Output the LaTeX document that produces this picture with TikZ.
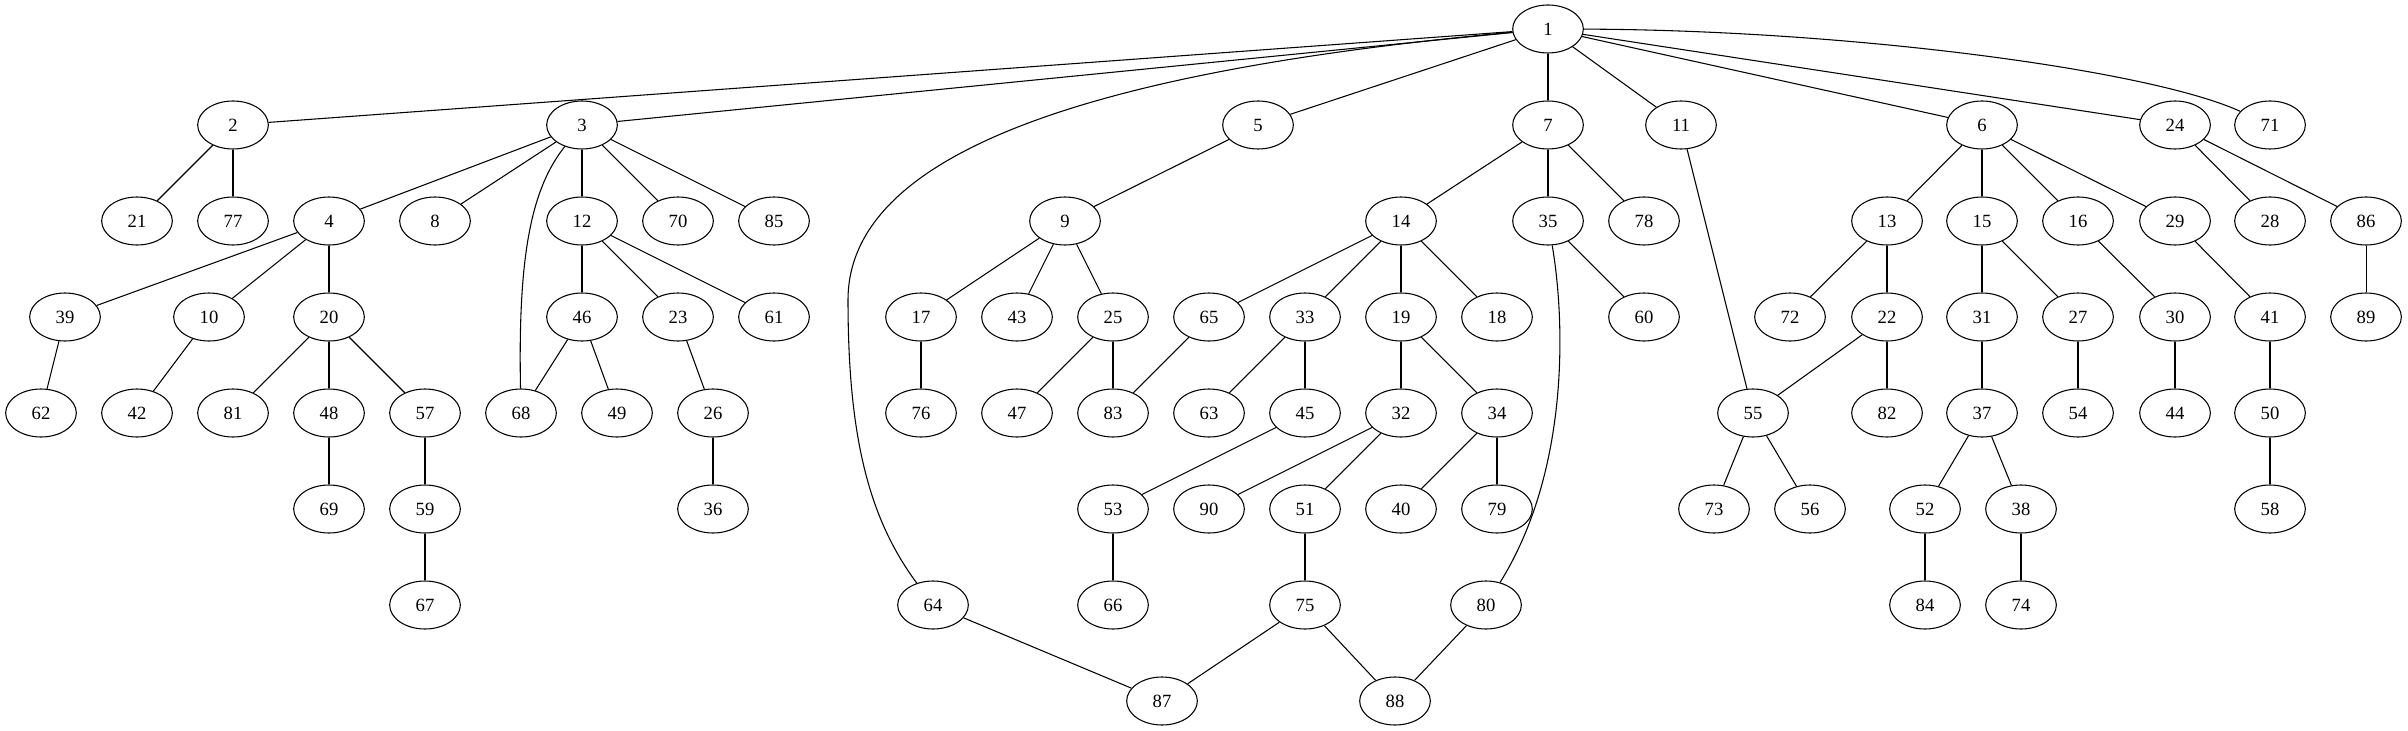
\documentclass[tikz,border=0pt]{standalone}
\usepackage{fontspec}
\setmainfont{Liberation Serif}
\usetikzlibrary{shapes.geometric}
\begin{document}
\begin{tikzpicture}[x=0.75pt,y=-0.75pt,
  vertex/.style={draw,ellipse,minimum width=53pt,minimum height=36pt,inner sep=0pt,font=\fontsize{14}{16}\selectfont},
  every path/.style={line width=0.8pt}]
\useasboundingbox (0,0) rectangle (2408,731);
\node[vertex] (n1) at (1548,29) {1};
\node[vertex] (n2) at (233,125) {2};
\node[vertex] (n3) at (582,125) {3};
\node[vertex] (n5) at (1258,125) {5};
\node[vertex] (n7) at (1548,125) {7};
\node[vertex] (n11) at (1681,125) {11};
\node[vertex] (n6) at (1982,125) {6};
\node[vertex] (n24) at (2175,125) {24};
\node[vertex] (n71) at (2270,125) {71};
\node[vertex] (n21) at (137,221) {21};
\node[vertex] (n77) at (233,221) {77};
\node[vertex] (n4) at (329,221) {4};
\node[vertex] (n8) at (435,221) {8};
\node[vertex] (n12) at (582,221) {12};
\node[vertex] (n70) at (678,221) {70};
\node[vertex] (n85) at (774,221) {85};
\node[vertex] (n9) at (1065,221) {9};
\node[vertex] (n14) at (1401,221) {14};
\node[vertex] (n35) at (1548,221) {35};
\node[vertex] (n78) at (1644,221) {78};
\node[vertex] (n13) at (1887,221) {13};
\node[vertex] (n15) at (1982,221) {15};
\node[vertex] (n16) at (2078,221) {16};
\node[vertex] (n29) at (2175,221) {29};
\node[vertex] (n28) at (2270,221) {28};
\node[vertex] (n86) at (2366,221) {86};
\node[vertex] (n39) at (65,317) {39};
\node[vertex] (n10) at (209,317) {10};
\node[vertex] (n20) at (329,317) {20};
\node[vertex] (n46) at (582,317) {46};
\node[vertex] (n23) at (678,317) {23};
\node[vertex] (n61) at (774,317) {61};
\node[vertex] (n17) at (921,317) {17};
\node[vertex] (n43) at (1017,317) {43};
\node[vertex] (n25) at (1113,317) {25};
\node[vertex] (n65) at (1209,317) {65};
\node[vertex] (n33) at (1305,317) {33};
\node[vertex] (n19) at (1401,317) {19};
\node[vertex] (n18) at (1497,317) {18};
\node[vertex] (n60) at (1644,317) {60};
\node[vertex] (n72) at (1790,317) {72};
\node[vertex] (n22) at (1887,317) {22};
\node[vertex] (n31) at (1982,317) {31};
\node[vertex] (n27) at (2078,317) {27};
\node[vertex] (n30) at (2175,317) {30};
\node[vertex] (n41) at (2270,317) {41};
\node[vertex] (n89) at (2366,317) {89};
\node[vertex] (n62) at (41,413) {62};
\node[vertex] (n42) at (137,413) {42};
\node[vertex] (n81) at (233,413) {81};
\node[vertex] (n48) at (329,413) {48};
\node[vertex] (n57) at (425,413) {57};
\node[vertex] (n68) at (521,413) {68};
\node[vertex] (n49) at (617,413) {49};
\node[vertex] (n26) at (713,413) {26};
\node[vertex] (n76) at (921,413) {76};
\node[vertex] (n47) at (1017,413) {47};
\node[vertex] (n83) at (1113,413) {83};
\node[vertex] (n63) at (1209,413) {63};
\node[vertex] (n45) at (1305,413) {45};
\node[vertex] (n32) at (1401,413) {32};
\node[vertex] (n34) at (1497,413) {34};
\node[vertex] (n55) at (1753,413) {55};
\node[vertex] (n82) at (1887,413) {82};
\node[vertex] (n37) at (1982,413) {37};
\node[vertex] (n54) at (2078,413) {54};
\node[vertex] (n44) at (2175,413) {44};
\node[vertex] (n50) at (2270,413) {50};
\node[vertex] (n69) at (329,509) {69};
\node[vertex] (n59) at (425,509) {59};
\node[vertex] (n36) at (713,509) {36};
\node[vertex] (n53) at (1113,509) {53};
\node[vertex] (n90) at (1209,509) {90};
\node[vertex] (n51) at (1305,509) {51};
\node[vertex] (n40) at (1401,509) {40};
\node[vertex] (n79) at (1497,509) {79};
\node[vertex] (n73) at (1714,509) {73};
\node[vertex] (n56) at (1810,509) {56};
\node[vertex] (n52) at (1925,509) {52};
\node[vertex] (n38) at (2021,509) {38};
\node[vertex] (n58) at (2270,509) {58};
\node[vertex] (n67) at (425,605) {67};
\node[vertex] (n64) at (933,605) {64};
\node[vertex] (n66) at (1113,605) {66};
\node[vertex] (n75) at (1305,605) {75};
\node[vertex] (n80) at (1486,605) {80};
\node[vertex] (n84) at (1925,605) {84};
\node[vertex] (n74) at (2021,605) {74};
\node[vertex] (n87) at (1162,701) {87};
\node[vertex] (n88) at (1395,701) {88};
\draw (n1) -- (n2);
\draw (n1) -- (n3);
\draw (n1) .. controls (1100,70) and (848,150) .. (848,300) .. controls (848,440) and (870,520) .. (n64);
\draw (n1) -- (n5);
\draw (n1) -- (n7);
\draw (n1) -- (n11);
\draw (n1) -- (n6);
\draw (n1) -- (n24);
\draw (n1) .. controls (1850,30) and (2150,70) .. (n71);
\draw (n2) -- (n21);
\draw (n2) -- (n77);
\draw (n3) -- (n4);
\draw (n3) -- (n8);
\draw (n3) .. controls (530,190) and (518,260) .. (n68);
\draw (n3) -- (n12);
\draw (n3) -- (n70);
\draw (n3) -- (n85);
\draw (n4) -- (n39);
\draw (n4) -- (n10);
\draw (n4) -- (n20);
\draw (n12) -- (n46);
\draw (n12) -- (n23);
\draw (n12) -- (n61);
\draw (n39) -- (n62);
\draw (n10) -- (n42);
\draw (n20) -- (n81);
\draw (n20) -- (n48);
\draw (n20) -- (n57);
\draw (n46) -- (n68);
\draw (n46) -- (n49);
\draw (n23) -- (n26);
\draw (n48) -- (n69);
\draw (n57) -- (n59);
\draw (n59) -- (n67);
\draw (n26) -- (n36);
\draw (n5) -- (n9);
\draw (n7) -- (n14);
\draw (n7) -- (n35);
\draw (n7) -- (n78);
\draw (n9) -- (n17);
\draw (n9) -- (n43);
\draw (n9) -- (n25);
\draw (n14) -- (n65);
\draw (n14) -- (n33);
\draw (n14) -- (n19);
\draw (n14) -- (n18);
\draw (n35) -- (n60);
\draw (n35) .. controls (1565,320) and (1570,470) .. (n80);
\draw (n17) -- (n76);
\draw (n25) -- (n47);
\draw (n25) -- (n83);
\draw (n65) -- (n83);
\draw (n33) -- (n63);
\draw (n33) -- (n45);
\draw (n19) -- (n32);
\draw (n19) -- (n34);
\draw (n45) -- (n53);
\draw (n32) -- (n90);
\draw (n32) -- (n51);
\draw (n34) -- (n40);
\draw (n34) -- (n79);
\draw (n53) -- (n66);
\draw (n51) -- (n75);
\draw (n64) -- (n87);
\draw (n75) -- (n87);
\draw (n75) -- (n88);
\draw (n80) -- (n88);
\draw (n11) -- (n55);
\draw (n6) -- (n13);
\draw (n6) -- (n15);
\draw (n6) -- (n16);
\draw (n6) -- (n29);
\draw (n24) -- (n28);
\draw (n24) -- (n86);
\draw (n13) -- (n72);
\draw (n13) -- (n22);
\draw (n22) -- (n55);
\draw (n22) -- (n82);
\draw (n15) -- (n31);
\draw (n15) -- (n27);
\draw (n16) -- (n30);
\draw (n29) -- (n41);
\draw (n86) -- (n89);
\draw (n31) -- (n37);
\draw (n27) -- (n54);
\draw (n30) -- (n44);
\draw (n41) -- (n50);
\draw (n55) -- (n73);
\draw (n55) -- (n56);
\draw (n37) -- (n52);
\draw (n37) -- (n38);
\draw (n52) -- (n84);
\draw (n38) -- (n74);
\draw (n50) -- (n58);
\end{tikzpicture}
\end{document}
